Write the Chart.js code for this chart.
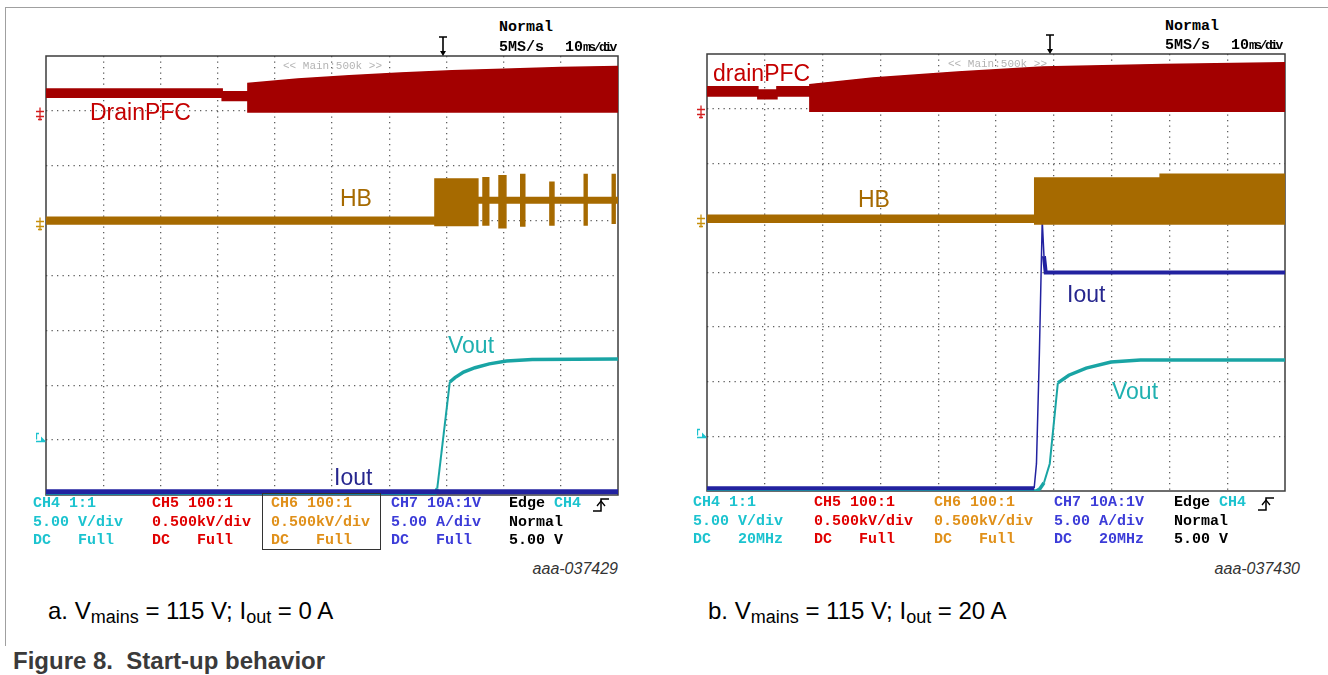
<!DOCTYPE html>
<html>
<head>
<meta charset="utf-8">
<script src="https://cdn.jsdelivr.net/npm/chart.js"></script>
<style>
  body { margin: 0; width: 1328px; height: 675px; position: relative; background: #fff; overflow: hidden; }
  .t { position: absolute; white-space: pre; line-height: 1; }
  .mono { font-family: 'Liberation Mono', 'DejaVu Sans Mono', monospace; font-size: 15px; line-height: 18.5px; font-weight: bold; }
  .sans { font-family: 'Liberation Sans', Arial, sans-serif; }
  .lbl { font-family: 'Liberation Sans', Arial, sans-serif; font-size: 23px; }
  .sub { font-size: 18px; position: relative; top: 4px; }
  canvas { position: absolute; }
</style>
</head>
<body>

<!-- figure frame -->
<div style="position:absolute;left:5px;top:7px;width:1330px;height:638px;border-top:1px solid #a0a0a0;border-left:1px solid #a0a0a0;"></div>

<canvas id="scopeA" width="592" height="459" style="left:36px;top:46px"></canvas>
<canvas id="scopeB" width="598" height="457" style="left:697px;top:44px"></canvas>

<!-- panel a header -->
<div class="t mono" style="left:499px;top:19px">Normal</div>
<div class="t mono" style="left:499px;top:39px">5MS/s</div>
<div class="t mono" style="left:565px;top:39px">10<span style="font-size:13px;letter-spacing:-2.5px">ms/div</span></div>
<svg style="position:absolute;left:438px;top:35px" width="12" height="22"><path d="M1 2 H9 M5 2 V17" stroke="#000" stroke-width="1.6" fill="none"/><path d="M2 16 L8 16 L5 21 Z" fill="#000"/></svg>
<div class="t mono" style="left:283px;top:57px;font-size:11px;font-weight:normal;color:#b4b4b4">&lt;&lt; Main:500k &gt;&gt;</div>

<!-- panel b header -->
<div class="t mono" style="left:1165px;top:18px">Normal</div>
<div class="t mono" style="left:1165px;top:37px">5MS/s</div>
<div class="t mono" style="left:1231px;top:37px">10<span style="font-size:13px;letter-spacing:-2.5px">ms/div</span></div>
<svg style="position:absolute;left:1045px;top:33px" width="12" height="22"><path d="M1 2 H9 M5 2 V17" stroke="#000" stroke-width="1.6" fill="none"/><path d="M2 16 L8 16 L5 21 Z" fill="#000"/></svg>
<div class="t mono" style="left:948px;top:55px;font-size:11px;font-weight:normal;color:#b4b4b4">&lt;&lt; Main:500k &gt;&gt;</div>

<!-- trace labels a -->
<div class="t lbl" style="left:90px;top:101px;color:#c40000">DrainPFC</div>
<div class="t lbl" style="left:340px;top:187px;color:#a66a00">HB</div>
<div class="t lbl" style="left:448px;top:334px;color:#1fb0b0">Vout</div>
<div class="t lbl" style="left:334px;top:466px;color:#26268e">Iout</div>

<!-- trace labels b -->
<div class="t lbl" style="left:713px;top:62px;color:#c40000">drainPFC</div>
<div class="t lbl" style="left:858px;top:188px;color:#a66a00">HB</div>
<div class="t lbl" style="left:1067px;top:283px;color:#26268e">Iout</div>
<div class="t lbl" style="left:1112px;top:380px;color:#1fb0b0">Vout</div>

<!-- channel settings a -->
<div class="t mono" style="left:33px;top:495px;color:#1cc3cf">CH4 1:1
5.00 V/div
DC   Full</div>
<div class="t mono" style="left:152px;top:495px;color:#e00000">CH5 100:1
0.500kV/div
DC   Full</div>
<div class="t mono" style="left:271px;top:495px;color:#e0901a">CH6 100:1
0.500kV/div
DC   Full</div>
<div style="position:absolute;left:262px;top:493px;width:117px;height:55px;border:1.5px solid #333"></div>
<div class="t mono" style="left:391px;top:495px;color:#3c3cd8">CH7 10A:1V
5.00 A/div
DC   Full</div>
<div class="t mono" style="left:509px;top:495px;color:#000">Edge <span style="color:#1cc3cf">CH4</span>
Normal
5.00 V</div>
<svg style="position:absolute;left:592px;top:497px" width="20" height="16"><path d="M1 14 H9 V2 H17" stroke="#000" stroke-width="1.5" fill="none"/><path d="M5 9 L9 4 L13 9" stroke="#000" stroke-width="1.3" fill="none"/></svg>

<!-- channel settings b -->
<div class="t mono" style="left:693px;top:494px;color:#1cc3cf">CH4 1:1
5.00 V/div
DC   20MHz</div>
<div class="t mono" style="left:814px;top:494px;color:#e00000">CH5 100:1
0.500kV/div
DC   Full</div>
<div class="t mono" style="left:934px;top:494px;color:#e0901a">CH6 100:1
0.500kV/div
DC   Full</div>
<div class="t mono" style="left:1054px;top:494px;color:#3c3cd8">CH7 10A:1V
5.00 A/div
DC   20MHz</div>
<div class="t mono" style="left:1174px;top:494px;color:#000">Edge <span style="color:#1cc3cf">CH4</span>
Normal
5.00 V</div>
<svg style="position:absolute;left:1257px;top:496px" width="20" height="16"><path d="M1 14 H9 V2 H17" stroke="#000" stroke-width="1.5" fill="none"/><path d="M5 9 L9 4 L13 9" stroke="#000" stroke-width="1.3" fill="none"/></svg>

<!-- ids and captions -->
<div class="t sans" style="left:532px;top:561px;font-size:16px;font-style:italic;color:#333;width:86px;text-align:right">aaa-037429</div>
<div class="t sans" style="left:1214px;top:561px;font-size:16px;font-style:italic;color:#333;width:86px;text-align:right">aaa-037430</div>
<div class="t sans" style="left:48px;top:599px;font-size:24px;color:#000">a. V<span class="sub">mains</span> = 115 V; I<span class="sub">out</span> = 0 A</div>
<div class="t sans" style="left:708px;top:599px;font-size:24px;color:#000">b. V<span class="sub">mains</span> = 115 V; I<span class="sub">out</span> = 20 A</div>
<div class="t sans" style="left:13px;top:649px;font-size:24px;font-weight:bold;color:#3a3a3a">Figure 8.  Start-up behavior</div>

<script>
// values are in divisions (0..8 from the bottom), time in ms (0..100, 10 ms/div)

// ---- a. Vmains = 115 V, Iout = 0 A ----
const pfcA_t  = [0, 30.8, 30.8, 35.3, 35.3, 44, 53, 62, 71, 80, 90, 100];
const pfcA_hi = [7.40, 7.40, 7.35, 7.35, 7.50, 7.58, 7.64, 7.69, 7.73, 7.76, 7.79, 7.81];
const pfcA_lo = [7.25, 7.25, 7.19, 7.19, 6.98, 6.98, 6.98, 6.98, 6.98, 6.98, 6.98, 6.98];

const hbA_t  = [0, 68.0, 68.0, 75.5, 75.5, 76.4, 76.4, 77.4, 77.4, 79.2, 79.2, 80.4, 80.4, 83.0, 83.0, 83.7, 83.7, 88.1, 88.1, 88.8, 88.8, 94.1, 94.1, 94.6, 94.6, 99.0, 99.0, 99.5, 99.5, 100];
const hbA_hi = [5.06, 5.06, 5.76, 5.76, 5.42, 5.42, 5.78, 5.78, 5.42, 5.42, 5.82, 5.82, 5.42, 5.42, 5.84, 5.84, 5.42, 5.42, 5.70, 5.70, 5.42, 5.42, 5.84, 5.84, 5.42, 5.42, 5.84, 5.84, 5.42, 5.42];
const hbA_lo = [4.94, 4.94, 4.91, 4.91, 5.32, 5.32, 4.92, 4.92, 5.32, 5.32, 4.87, 4.87, 5.32, 5.32, 4.90, 4.90, 5.32, 5.32, 4.92, 4.92, 5.32, 5.32, 4.92, 4.92, 5.32, 5.32, 4.95, 4.95, 5.32, 5.32];

const voutA_t = [0, 67.9, 68.4, 70.6, 71.5, 73.0, 75.0, 77.5, 80.5, 85, 100];
const voutA_v = [0.00, 0.00, 0.12, 2.06, 2.14, 2.24, 2.32, 2.39, 2.44, 2.47, 2.48];

const ioutA_t = [0, 100];
const ioutA_v = [0.06, 0.06];

// ---- b. Vmains = 115 V, Iout = 20 A ----
const pfcB_t  = [0, 8.8, 8.8, 12.1, 12.1, 17.8, 17.8, 28.7, 43.4, 58, 79, 100];
const pfcB_hi = [7.40, 7.40, 7.34, 7.34, 7.40, 7.40, 7.44, 7.56, 7.67, 7.76, 7.81, 7.84];
const pfcB_lo = [7.23, 7.23, 7.18, 7.18, 7.23, 7.23, 6.95, 6.95, 6.95, 6.95, 6.95, 6.95];

const hbB_t  = [0, 56.7, 56.7, 78.4, 78.4, 100];
const hbB_hi = [5.05, 5.05, 5.73, 5.73, 5.80, 5.80];
const hbB_lo = [4.92, 4.92, 4.89, 4.89, 4.89, 4.89];

const voutB_t = [0, 57.0, 57.6, 58.3, 59.3, 60.7, 62.6, 65.6, 69.9, 75, 100];
const voutB_v = [0.00, 0.00, 0.04, 0.15, 0.50, 1.98, 2.12, 2.25, 2.36, 2.40, 2.40];

const ioutB_t = [0, 56.6, 57.0, 57.5, 58.0, 58.3, 58.6, 100];
const ioutB_v = [0.05, 0.05, 0.50, 2.50, 4.95, 4.30, 4.00, 4.00];

// ground / trigger level markers on the left edge
const levelMarks = [
    { level: 7, color: '#d42020', kind: 'gnd' },
    { level: 5, color: '#c8900c', kind: 'gnd' },
    { level: 1, color: '#1cc3cf', kind: 'trig' }
];

const PFC_COLOR = '#a30000';
const HB_COLOR = '#a66a00';
const VOUT_COLOR = '#19a4a4';
const IOUT_COLOR = '#2222a0';

const pts = (t, v) => t.map((x, i) => ({ x: x, y: v[i] }));

function band(t, hi, lo, color) {
    return [
        { data: pts(t, hi), borderColor: color, backgroundColor: color, borderWidth: 1.5, fill: '+1' },
        { data: pts(t, lo), borderColor: color, borderWidth: 1.5, fill: false }
    ];
}

function trace(t, v, color, flatW, steepW) {
    return {
        data: pts(t, v), borderColor: color, borderWidth: flatW, fill: false,
        segment: { borderWidth: c => Math.abs(c.p1.parsed.y - c.p0.parsed.y) > 0.3 ? steepW : flatW }
    };
}

// frame of the scope screen + level markers
const scopeDecor = {
    id: 'scopeDecor',
    beforeDatasetsDraw(chart) {
        const { ctx, chartArea: a, scales } = chart;
        ctx.save();
        ctx.strokeStyle = '#3c3c3c';
        ctx.lineWidth = 1.5;
        ctx.strokeRect(a.left, a.top, a.right - a.left, a.bottom - a.top);
        levelMarks.forEach(m => {
            const y = Math.round(scales.y.getPixelForValue(m.level)) + 0.5;
            const x = a.left;
            ctx.strokeStyle = m.color;
            ctx.fillStyle = m.color;
            ctx.lineWidth = 1.3;
            ctx.beginPath();
            if (m.kind === 'gnd') {
                ctx.moveTo(x - 10, y); ctx.lineTo(x - 2, y);
                ctx.moveTo(x - 6, y - 4); ctx.lineTo(x - 6, y + 9);
                ctx.moveTo(x - 10, y + 5); ctx.lineTo(x - 2, y + 5);
                ctx.moveTo(x - 8, y + 8); ctx.lineTo(x - 4, y + 8);
                ctx.stroke();
            } else {
                ctx.moveTo(x - 12, y + 1); ctx.lineTo(x - 1, y + 1);
                ctx.moveTo(x - 12, y - 7); ctx.lineTo(x - 7, y - 7);
                ctx.moveTo(x - 9.5, y - 7); ctx.lineTo(x - 9.5, y - 1);
                ctx.stroke();
                ctx.beginPath();
                ctx.moveTo(x - 5, y - 4); ctx.lineTo(x, y + 1); ctx.lineTo(x - 5, y + 1);
                ctx.closePath();
                ctx.fill();
            }
        });
        ctx.restore();
    }
};

const gridColor = c => (c.tick.value === c.scale.min || c.tick.value === c.scale.max) ? 'rgba(0,0,0,0)' : '#5e5e5e';

function makeScope(id, datasets) {
    const ctx = document.getElementById(id).getContext('2d');
    return new Chart(ctx, {
        type: 'line',
        data: { datasets: datasets },
        options: {
            responsive: false,
            animation: false,
            events: [],
            layout: { padding: 10 },
            elements: { point: { radius: 0 }, line: { tension: 0 } },
            plugins: { legend: { display: false }, tooltip: { enabled: false } },
            scales: {
                x: {
                    type: 'linear', min: 0, max: 100,
                    ticks: { display: false, stepSize: 10 },
                    grid: { drawTicks: false, color: gridColor, lineWidth: 1.3 },
                    border: { display: false, dash: [1.3, 4.2] }
                },
                y: {
                    type: 'linear', min: 0, max: 8,
                    ticks: { display: false, stepSize: 1 },
                    grid: { drawTicks: false, color: gridColor, lineWidth: 1.3 },
                    border: { display: false, dash: [1.3, 4.2] }
                }
            }
        },
        plugins: [scopeDecor]
    });
}

// first dataset is drawn on top
makeScope('scopeA', [
    ...band(hbA_t, hbA_hi, hbA_lo, HB_COLOR),
    ...band(pfcA_t, pfcA_hi, pfcA_lo, PFC_COLOR),
    trace(ioutA_t, ioutA_v, IOUT_COLOR, 5, 1.5),
    trace(voutA_t, voutA_v, VOUT_COLOR, 3.5, 2)
]);

makeScope('scopeB', [
    ...band(hbB_t, hbB_hi, hbB_lo, HB_COLOR),
    ...band(pfcB_t, pfcB_hi, pfcB_lo, PFC_COLOR),
    trace(ioutB_t, ioutB_v, IOUT_COLOR, 4, 1.5),
    trace(voutB_t, voutB_v, VOUT_COLOR, 3.5, 2)
]);
</script>
</body>
</html>
